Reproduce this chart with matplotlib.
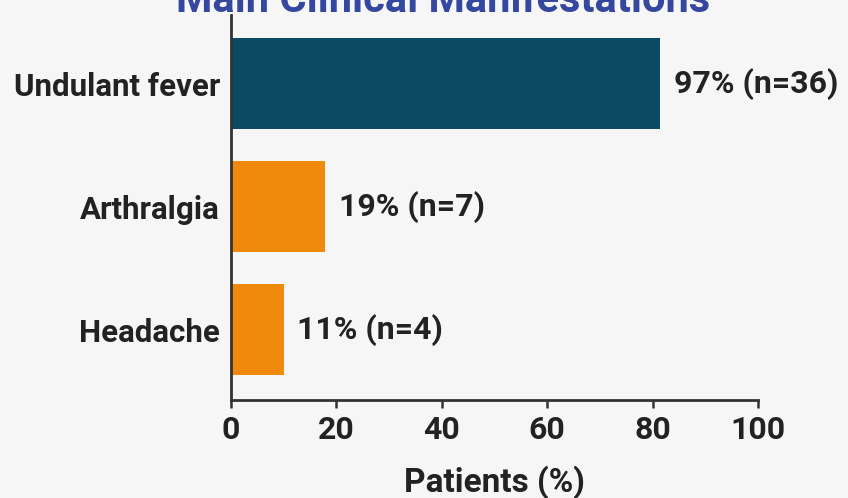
import matplotlib.pyplot as plt
from matplotlib import font_manager

# values
symptoms = ['Undulant fever', 'Arthralgia', 'Headache']
bar_len = [81.4, 17.8, 10.0]
labels = ['97% (n=36)', '19% (n=7)', '11% (n=4)']
colors = ['#0a4a62', '#ef8a0d', '#ef8a0d']
xticks = [0, 20, 40, 60, 80, 100]

names = {f.name for f in font_manager.fontManager.ttflist}
fam = 'Liberation Sans Narrow' if 'Liberation Sans Narrow' in names else 'Roboto'
plt.rcParams['font.family'] = [fam, 'DejaVu Sans']
plt.rcParams['font.weight'] = 'bold'

bg = '#f6f6f6'
fig = plt.figure(figsize=(8.48, 4.98), dpi=100, facecolor=bg)
ax = fig.add_axes([0.2724, 0.1968, 0.6215, 0.7732], facecolor=bg)

pos = list(range(len(symptoms)))
ax.barh(pos, bar_len, height=0.74, color=colors)
for p, v, t in zip(pos, bar_len, labels):
    ax.text(v + 2.6, p, t, va='center', ha='left', fontsize=23,
            fontweight='bold', color='#222222')

ax.set_xlim(0, 100)
ax.set_ylim(2.57, -0.56)
ax.set_yticks(pos)
ax.set_yticklabels(symptoms, fontsize=22.5, fontweight='bold', color='#222222')
ax.set_xticks(xticks)
ax.set_xticklabels([str(x) for x in xticks], fontsize=23, fontweight='bold',
                   color='#222222')
ax.tick_params(axis='y', length=0, pad=8)
ax.tick_params(axis='x', length=6, width=1.8, color='#333333', pad=5)
for s in ['top', 'right']:
    ax.spines[s].set_visible(False)
for s in ['left', 'bottom']:
    ax.spines[s].set_linewidth(2)
    ax.spines[s].set_color('#333333')

ax.set_xlabel('Patients (%)', fontsize=24, fontweight='bold', color='#222222',
              labelpad=14)
fig.text(0.522, 0.975, 'Main Clinical Manifestations', ha='center',
         va='baseline', fontsize=30, fontweight='bold', color='#3548a0')

fig.savefig('out.png', dpi=100, facecolor=bg)
